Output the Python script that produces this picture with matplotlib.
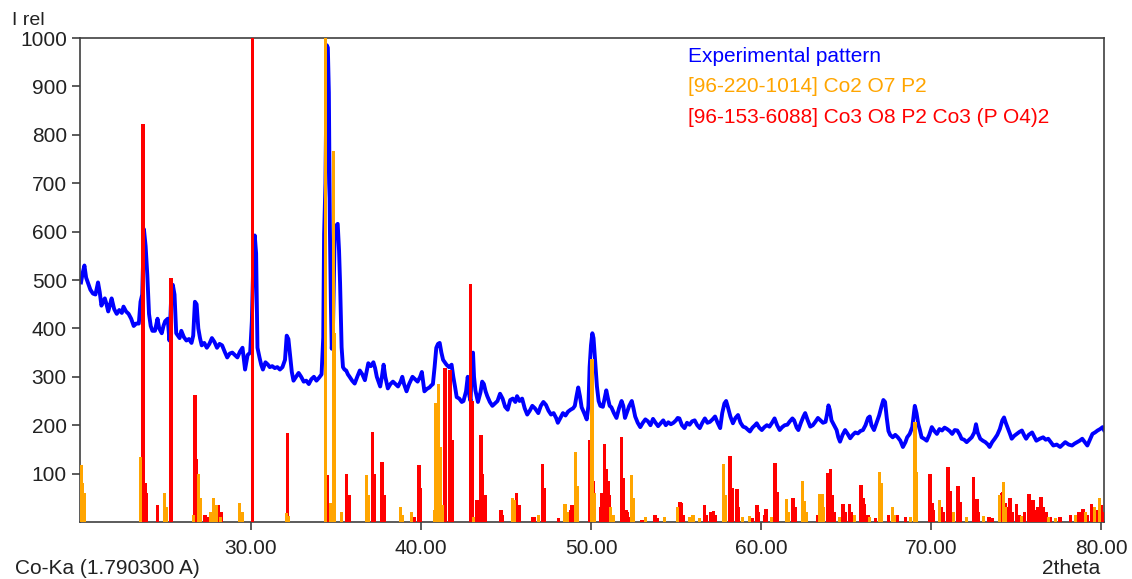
import matplotlib
matplotlib.use("Agg")
import matplotlib.pyplot as plt

plt.rcParams['font.family'] = ['Liberation Sans', 'DejaVu Sans']

# ---------------- data ----------------
exp_2theta = [
20.00,20.10,20.20,20.30,20.40,20.55,20.70,20.85,21.00,21.10,21.20,21.30,21.40,21.50,21.60,21.70,21.80,21.95,
22.10,22.25,22.40,22.50,22.65,22.80,22.95,23.10,23.25,23.40,23.50,23.60,23.70,23.80,23.90,24.00,24.10,24.20,
24.35,24.50,24.60,24.75,24.85,24.95,25.10,25.20,25.30,25.40,25.50,25.60,25.70,25.80,25.90,26.05,26.20,26.35,
26.50,26.60,26.70,26.80,26.90,27.00,27.10,27.25,27.40,27.55,27.70,27.85,28.00,28.15,28.30,28.45,28.60,28.75,
28.90,29.05,29.20,29.35,29.50,29.65,29.80,29.95,30.05,30.15,30.22,30.30,30.38,30.50,30.60,30.70,30.85,31.00,
31.10,31.25,31.40,31.55,31.70,31.85,32.00,32.10,32.20,32.30,32.40,32.50,32.65,32.80,32.95,33.10,33.25,33.40,
33.55,33.70,33.85,34.00,34.15,34.25,34.30,34.38,34.46,34.52,34.58,34.64,34.70,34.75,34.82,34.92,35.00,35.10,
35.18,35.24,35.33,35.41,35.50,35.60,35.70,35.80,35.95,36.10,36.25,36.40,36.55,36.70,36.80,36.90,37.05,37.20,
37.30,37.40,37.50,37.60,37.70,37.80,37.90,38.05,38.20,38.35,38.50,38.65,38.80,38.90,39.00,39.15,39.30,39.50,
39.65,39.80,39.95,40.05,40.20,40.35,40.50,40.60,40.70,40.80,40.90,41.00,41.10,41.20,41.30,41.40,41.50,41.65,
41.80,41.90,42.00,42.10,42.25,42.40,42.50,42.65,42.75,42.85,42.92,43.00,43.06,43.12,43.20,43.35,43.50,43.60,
43.70,43.80,43.90,44.05,44.20,44.35,44.50,44.65,44.80,44.95,45.10,45.25,45.40,45.55,45.65,45.80,45.95,46.10,
46.25,46.40,46.55,46.70,46.90,47.05,47.20,47.35,47.50,47.65,47.80,47.95,48.05,48.20,48.35,48.50,48.65,48.80,
48.95,49.05,49.15,49.25,49.35,49.45,49.60,49.75,49.85,49.92,50.00,50.08,50.15,50.25,50.35,50.45,50.55,50.70,
50.80,50.90,51.00,51.10,51.20,51.35,51.50,51.65,51.80,51.90,52.00,52.10,52.25,52.40,52.50,52.60,52.75,52.90,
53.05,53.20,53.35,53.50,53.65,53.80,53.95,54.10,54.25,54.40,54.55,54.70,54.85,55.00,55.10,55.20,55.35,55.50,
55.65,55.80,55.95,56.10,56.25,56.40,56.55,56.70,56.85,57.00,57.15,57.30,57.45,57.60,57.72,57.85,57.95,58.05,
58.20,58.35,58.50,58.65,58.80,58.95,59.10,59.25,59.35,59.50,59.65,59.75,59.90,60.05,60.20,60.35,60.50,60.65,
60.80,60.95,61.10,61.25,61.40,61.55,61.70,61.85,61.95,62.10,62.20,62.35,62.50,62.60,62.75,62.90,63.05,63.20,
63.35,63.50,63.65,63.80,63.90,63.97,64.05,64.15,64.30,64.45,64.55,64.65,64.80,64.95,65.10,65.25,65.40,65.55,
65.70,65.85,66.00,66.15,66.30,66.40,66.50,66.65,66.80,66.95,67.10,67.20,67.30,67.40,67.50,67.60,67.75,67.90,
68.05,68.20,68.35,68.50,68.60,68.75,68.90,68.98,69.05,69.15,69.25,69.35,69.45,69.60,69.75,69.90,70.05,70.20,
70.35,70.50,70.65,70.80,70.95,71.10,71.25,71.40,71.55,71.70,71.80,71.95,72.10,72.25,72.40,72.55,72.65,72.75,
72.90,73.05,73.20,73.35,73.45,73.60,73.75,73.90,74.05,74.20,74.30,74.40,74.50,74.65,74.75,74.90,75.05,75.20,
75.35,75.50,75.60,75.75,75.95,76.10,76.20,76.40,76.60,76.75,76.90,77.05,77.20,77.40,77.60,77.75,77.90,78.10,
78.30,78.45,78.60,78.75,78.90,79.05,79.20,79.35,79.50,79.65,79.80,79.95,80.10,80.18]
exp_intensity = [
495,515,530,505,495,480,472,470,495,475,447,455,462,450,435,448,462,440,
430,438,432,445,435,430,420,405,410,410,455,470,605,570,510,430,405,395,
395,420,400,390,405,415,420,375,460,490,470,390,385,380,395,382,375,378,
370,385,455,450,400,380,365,370,360,368,380,372,360,368,365,352,340,348,
350,345,340,352,360,315,345,350,415,560,592,555,360,340,325,315,330,325,
320,322,318,320,315,320,335,385,378,345,310,292,300,308,300,290,292,285,
295,300,292,298,305,381,595,700,985,980,887,608,450,358,396,590,612,616,
560,493,361,320,315,313,305,300,292,286,300,313,305,293,310,328,322,330,
318,300,290,280,300,325,300,276,285,290,285,280,290,300,285,270,285,300,
295,290,300,310,270,275,278,282,285,320,360,368,370,350,335,330,325,320,
325,300,280,258,255,248,250,270,300,260,250,344,350,300,272,248,268,290,
285,270,260,248,240,245,250,265,255,238,232,252,255,248,260,250,255,235,
222,230,240,235,225,240,248,242,230,222,225,215,205,215,225,220,228,232,
235,240,260,278,260,237,225,212,240,320,365,390,380,330,280,250,240,238,
255,272,255,240,237,225,215,235,250,240,215,225,240,250,235,218,205,196,
205,212,208,200,213,205,198,204,210,200,206,202,205,210,215,214,200,194,
205,201,208,210,200,194,205,214,205,207,212,218,205,194,225,245,250,238,
218,204,215,221,205,197,195,190,187,195,200,204,195,190,196,200,197,205,
214,200,190,196,200,201,208,214,210,195,190,205,218,225,210,197,200,207,
215,210,205,207,225,241,232,210,200,190,175,166,180,190,182,173,180,185,
183,188,190,200,215,218,200,190,205,220,240,252,248,215,188,180,175,180,
175,168,155,165,175,182,196,220,240,225,203,190,175,172,168,180,196,188,
182,192,189,195,192,188,182,190,189,180,172,170,165,170,175,185,202,185,
172,168,165,160,155,165,172,180,192,210,216,205,196,182,172,178,182,186,
189,178,172,180,185,175,168,172,175,170,172,165,158,160,155,160,165,160,
158,162,165,168,172,165,158,170,182,185,189,192,196,190]

red_2theta = [
23.63,23.76,23.86,24.50,25.30,26.70,26.80,27.30,27.40,28.10,28.25,30.08,32.14,34.37,34.46,35.63,35.76,
37.14,37.24,37.70,37.82,39.60,39.88,39.98,41.40,41.72,41.84,42.90,43.02,43.30,43.40,43.53,43.63,43.76,
44.70,44.80,45.50,45.63,45.76,46.57,46.65,47.14,47.24,48.10,48.65,48.80,48.90,49.00,49.94,50.12,50.20,
50.55,50.62,50.80,50.92,51.00,51.08,51.80,51.92,52.05,52.16,52.30,53.00,53.76,53.90,55.24,55.33,55.45,
56.67,56.78,57.05,57.20,57.30,58.18,58.30,58.60,58.68,59.50,59.75,59.85,60.20,60.30,60.82,60.96,61.90,
62.00,62.45,63.35,63.96,64.10,64.20,64.30,64.84,64.95,65.20,65.30,65.90,66.02,66.10,66.30,66.75,67.50,
68.00,68.50,69.94,70.05,70.12,70.60,70.70,71.00,71.14,71.25,71.60,71.70,72.50,72.70,72.80,73.40,73.60,
74.05,74.16,74.20,74.35,74.50,74.65,74.80,75.04,75.20,75.50,75.77,76.00,76.10,76.30,76.47,76.60,76.80,
77.00,77.60,78.20,78.70,78.96,79.20,79.45,79.70,80.00,80.10]
red_intensity = [
822,80,60,35,505,262,130,15,10,35,20,1000,183,193,97,100,55,
186,100,124,55,10,117,70,318,315,170,492,250,45,25,180,100,55,
25,15,30,60,35,10,10,120,70,8,15,25,35,30,170,85,40,
30,60,162,110,85,55,175,90,25,20,10,5,15,8,42,40,15,
35,15,20,22,15,136,70,68,30,8,35,20,15,27,121,62,50,
30,15,15,101,109,55,20,37,20,37,20,76,50,38,15,8,15,
15,10,99,40,25,30,20,114,65,20,74,42,94,48,20,10,8,
20,60,62,40,30,49,20,37,15,20,58,46,25,30,51,30,20,
10,10,15,20,27,15,38,25,35,20]

orange_2theta = [
20.04,20.10,20.20,23.50,24.90,25.00,26.60,26.90,27.00,27.60,27.80,27.95,28.20,29.35,29.50,32.10,32.20,
34.40,34.65,34.84,34.92,35.30,36.80,36.90,38.80,38.90,39.45,40.80,40.88,41.02,41.14,41.26,43.10,45.40,
45.47,46.94,48.47,48.60,49.10,49.20,50.06,50.18,51.16,51.30,52.40,52.50,53.20,54.30,55.10,55.80,56.00,
56.40,57.78,57.90,58.90,59.30,60.60,61.50,61.60,62.43,62.55,62.70,63.47,63.60,63.70,64.60,65.50,66.40,
67.00,67.10,67.76,67.85,68.80,69.06,69.16,70.53,71.35,72.10,73.10,74.06,74.25,74.40,75.30,76.90,77.30,
78.50,79.10,79.60,79.94]
orange_intensity = [
117,80,60,135,60,30,15,100,50,20,50,35,10,40,20,18,12,
1000,40,767,390,20,97,55,30,15,20,25,245,285,154,35,10,50,
45,15,38,20,145,75,337,60,30,15,97,50,10,10,30,10,15,
8,120,55,10,12,10,47,20,85,43,20,57,58,30,10,15,10,
103,80,30,15,10,206,103,45,20,10,12,55,83,30,12,10,8,
15,20,30,50]

legend_labels = ["Experimental pattern", "[96-220-1014] Co2 O7 P2",
                 "[96-153-6088] Co3 O8 P2 Co3 (P O4)2"]
xticks = [30, 40, 50, 60, 70, 80]
yticks = [100, 200, 300, 400, 500, 600, 700, 800, 900, 1000]

# ---------------- plot ----------------
W, H = 1132, 579
fig = plt.figure(figsize=(W / 100, H / 100), dpi=100)
ax = fig.add_axes([80 / W, 1 - 522 / H, (1104 - 80) / W, (522 - 38) / H])

BLUE = '#0000FF'
ORANGE = '#FFA500'
RED = '#FF0000'

ax.plot(exp_2theta, exp_intensity, color=BLUE, lw=2.8, zorder=2)
ax.bar(red_2theta, red_intensity, width=0.21, color=RED, linewidth=0, zorder=3)
ax.bar(orange_2theta, orange_intensity, width=0.18, color=ORANGE, linewidth=0, zorder=4)

ax.set_xlim(19.94, 80.18)
ax.set_ylim(0, 1000)
ax.set_xticks(xticks)
ax.set_xticklabels([f"{v:.2f}" for v in xticks])
ax.set_yticks(yticks)
ax.set_yticklabels([str(v) for v in yticks])

for s in ax.spines.values():
    s.set_color('#404040')
    s.set_linewidth(1.2)
ax.tick_params(axis='both', direction='out', length=6, width=1.2, color='#404040',
               labelsize=15, labelcolor='#222222')
ax.tick_params(axis='y', pad=3.5)
ax.tick_params(axis='x', pad=6)

tx = 688 / W
for lab, col, py in zip(legend_labels, [BLUE, ORANGE, RED], [57, 87, 117]):
    fig.text(tx, 1 - py / H, lab, color=col, fontsize=15, va='center', ha='left')

fig.text(12 / W, 1 - 25 / H, "I rel", fontsize=14, color='#222222', va='baseline', ha='left')
fig.text(15 / W, 1 - 574 / H, "Co-Ka (1.790300 A)", fontsize=15, color='#222222',
         va='baseline', ha='left')
fig.text(1100 / W, 1 - 574 / H, "2theta", fontsize=15, color='#222222',
         va='baseline', ha='right')

fig.savefig("out.png", dpi=100)
